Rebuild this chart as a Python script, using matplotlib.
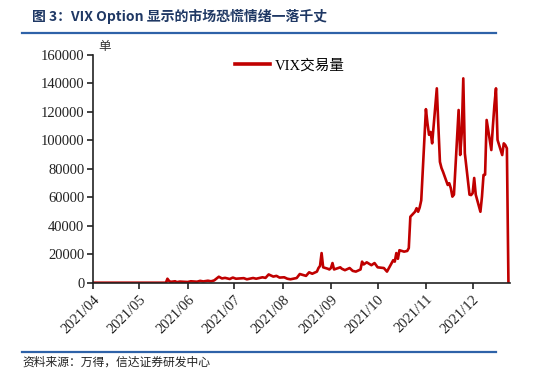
import matplotlib
matplotlib.use("Agg")
import matplotlib.pyplot as plt
import matplotlib.dates as mdates
import pandas as pd
from matplotlib.lines import Line2D

# VIX option daily volume
dates = [
    "2021-04-01", "2021-04-15", "2021-05-03", "2021-05-18", "2021-05-19", "2021-05-20",
    "2021-05-21", "2021-05-24", "2021-05-25", "2021-05-27", "2021-06-01", "2021-06-03",
    "2021-06-07", "2021-06-09", "2021-06-11", "2021-06-14", "2021-06-16", "2021-06-18",
    "2021-06-21", "2021-06-23", "2021-06-25", "2021-06-28", "2021-06-30", "2021-07-02",
    "2021-07-07", "2021-07-09", "2021-07-13", "2021-07-15", "2021-07-19", "2021-07-21",
    "2021-07-23", "2021-07-26", "2021-07-28", "2021-07-30", "2021-08-02", "2021-08-04",
    "2021-08-06", "2021-08-10", "2021-08-12", "2021-08-16", "2021-08-18", "2021-08-20",
    "2021-08-23", "2021-08-24", "2021-08-25", "2021-08-26", "2021-08-27", "2021-08-30",
    "2021-08-31", "2021-09-01", "2021-09-02", "2021-09-03", "2021-09-07", "2021-09-08",
    "2021-09-10", "2021-09-13", "2021-09-15", "2021-09-17", "2021-09-20", "2021-09-21",
    "2021-09-22", "2021-09-24", "2021-09-27", "2021-09-29", "2021-10-01", "2021-10-05",
    "2021-10-07", "2021-10-11", "2021-10-12", "2021-10-13", "2021-10-14", "2021-10-15",
    "2021-10-18", "2021-10-20", "2021-10-21", "2021-10-22", "2021-10-25", "2021-10-26",
    "2021-10-27", "2021-10-28", "2021-10-29", "2021-11-01", "2021-11-02", "2021-11-03",
    "2021-11-04", "2021-11-05", "2021-11-08", "2021-11-09", "2021-11-10", "2021-11-11",
    "2021-11-12", "2021-11-15", "2021-11-16", "2021-11-17", "2021-11-18", "2021-11-19",
    "2021-11-22", "2021-11-23", "2021-11-24", "2021-11-25", "2021-11-26", "2021-11-29",
    "2021-11-30", "2021-12-01", "2021-12-02", "2021-12-03", "2021-12-06", "2021-12-07",
    "2021-12-08", "2021-12-09", "2021-12-10", "2021-12-13", "2021-12-14", "2021-12-15",
    "2021-12-16", "2021-12-17", "2021-12-20", "2021-12-21", "2021-12-22", "2021-12-23",
    "2021-12-24",
]
volume = [
    200, 200, 200, 200, 3000, 1500,
    800, 1200, 600, 1000, 700, 1200,
    900, 1500, 1100, 1600, 1200, 1800,
    4400, 3200, 3600, 2800, 3800, 3000,
    3400, 2600, 3500, 3000, 4000, 3600,
    6000, 4500, 5000, 3800, 4000, 3000,
    2600, 3500, 6300, 5000, 7500, 6500,
    8000, 10500, 12000, 21000, 11000, 10000,
    9500, 10500, 14000, 9500, 11000, 10000,
    9000, 10500, 8500, 8000, 9500, 15000,
    13000, 14500, 12500, 14000, 11000, 10500,
    8000, 16000, 15000, 21000, 17000, 23000,
    22000, 22500, 24500, 46500, 50000, 52500,
    50000, 53000, 58000, 122000, 112000, 104000,
    106000, 98000, 136600, 110000, 85000, 80700,
    78000, 68800, 70000, 66500, 60600, 62000,
    121400, 89800, 105000, 143600, 91000, 62000,
    61700, 63000, 73700, 62000, 50000, 60600,
    75800, 76000, 114400, 93300, 110000, 125000,
    136600, 100400, 89800, 98000, 96800, 94500,
    0,
]
yticks = [0, 20000, 40000, 60000, 80000, 100000, 120000, 140000, 160000]

RED = "#C00000"
BLUE = "#2E62A8"
SERIF = ["Liberation Serif", "Noto Sans CJK SC"]
CJK = ["Noto Sans CJK SC", "DejaVu Sans"]

plt.rcParams["font.family"] = SERIF

x = pd.to_datetime(dates)

fig = plt.figure(figsize=(5.44, 3.79), dpi=100)
ax = fig.add_axes([0.1704, 0.2533, 0.7671, 0.6016])

ax.plot(x, volume, color=RED, linewidth=1.9, solid_joinstyle="round")

ax.set_ylim(0, 160000)
ax.set_yticks(yticks)
ax.set_yticklabels([str(v) for v in yticks], fontsize=10.5)
ax.set_xlim(pd.Timestamp("2021-04-01"), pd.Timestamp("2021-12-25"))
ax.xaxis.set_major_locator(mdates.MonthLocator())
ax.xaxis.set_major_formatter(mdates.DateFormatter("%Y/%m"))
for lab in ax.get_xticklabels():
    lab.set_rotation(45)
    lab.set_ha("right")
    lab.set_rotation_mode("anchor")
    lab.set_fontsize(10.5)

for s in ["top", "right"]:
    ax.spines[s].set_visible(False)
for s in ["left", "bottom"]:
    ax.spines[s].set_linewidth(1.2)
    ax.spines[s].set_color("#222222")
ax.tick_params(axis="both", direction="out", length=4, width=1.2, colors="#222222",
               labelcolor="#222222")
ax.tick_params(axis="y", pad=2)
ax.tick_params(axis="x", pad=3)

# unit label
fig.text(0.193, 0.876, "单", fontsize=9, family=CJK, color="#333333", ha="center", va="center")

# legend
handle = Line2D([], [], color=RED, linewidth=2.6)
ax.legend([handle], ["VIX交易量"], loc="upper left", bbox_to_anchor=(0.31, 1.04),
          frameon=False, handlelength=2.4, handletextpad=0.3,
          prop={"family": ["Liberation Serif", "Noto Sans CJK SC"], "size": 10.5})

# title and frame lines
fig.text(0.059, 0.957, "图 3：VIX Option 显示的市场恐慌情绪一落千丈", fontsize=10,
         fontweight="bold", family=CJK, color="#1F3864", va="center", ha="left")
fig.add_artist(Line2D([0.04, 0.912], [0.913, 0.913], color=BLUE, linewidth=1.6))
fig.add_artist(Line2D([0.04, 0.912], [0.071, 0.071], color=BLUE, linewidth=1.6))
fig.text(0.042, 0.045, "资料来源：万得，信达证券研发中心", fontsize=8.5, family=CJK,
         style="italic", color="#222222", va="center", ha="left")

fig.savefig("out.png", dpi=100, facecolor="white")
